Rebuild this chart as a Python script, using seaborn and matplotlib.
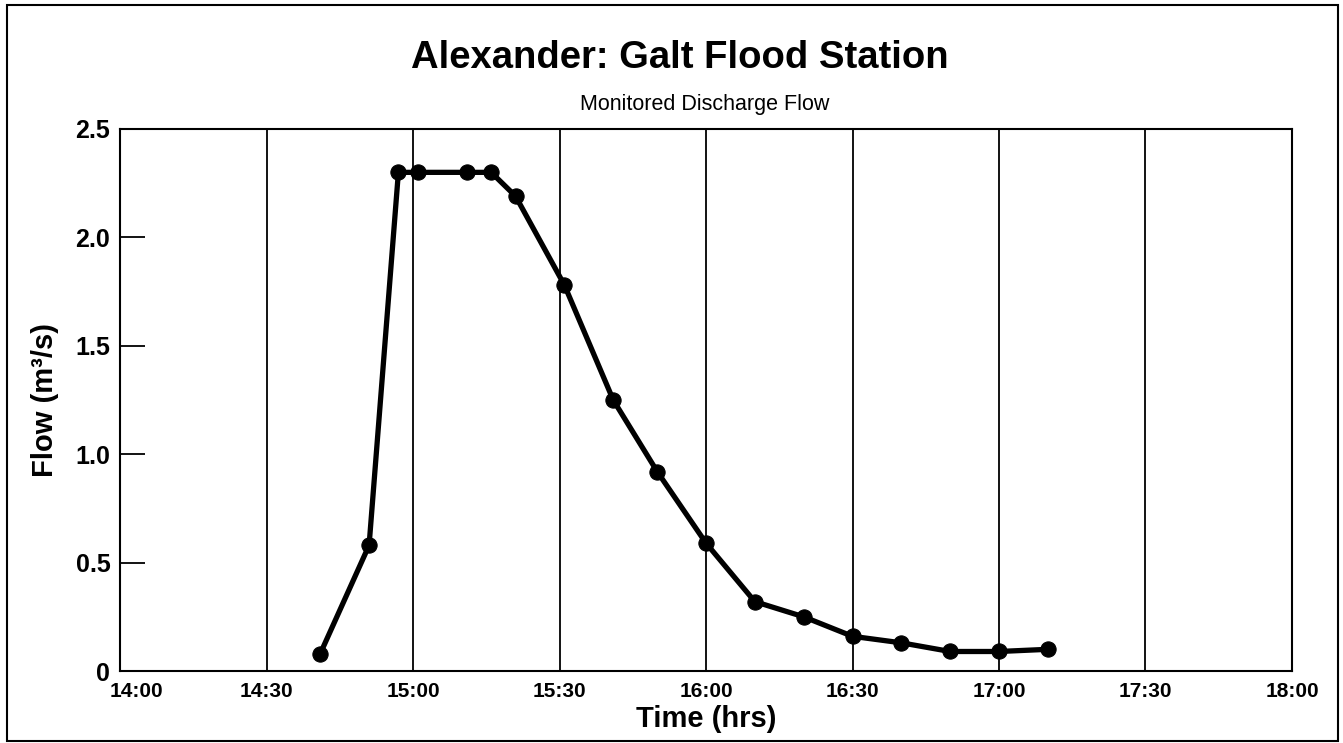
import pandas as pd
import matplotlib
matplotlib.use("Agg")
import matplotlib.pyplot as plt
import matplotlib.dates as mdates
import matplotlib.transforms as mtransforms
from matplotlib.patches import Rectangle
import seaborn as sns

# ── Dados ─────────────────────────────────────────────────────────────────────
TIMES = ["14:41", "14:51", "14:57", "15:01", "15:11", "15:16", "15:21", "15:31",
         "15:41", "15:50", "16:00", "16:10", "16:20", "16:30", "16:40", "16:50",
         "17:00", "17:10"]
FLOW = [0.08, 0.58, 2.30, 2.30, 2.30, 2.30, 2.19, 1.78,
        1.25, 0.92, 0.59, 0.32, 0.25, 0.16, 0.13, 0.09,
        0.09, 0.10]
Y_TICKS = [0, 0.5, 1.0, 1.5, 2.0, 2.5]
Y_LABELS = ["0", "0.5", "1.0", "1.5", "2.0", "2.5"]
X_START, X_END = "14:00", "18:00"

DAY = "2000-01-01 "
df = pd.DataFrame({"time": pd.to_datetime([DAY + t for t in TIMES]), "flow": FLOW})

sns.set_theme(style="white")
plt.rcParams["font.family"] = ["Liberation Sans", "DejaVu Sans"]
plt.rcParams["text.color"] = "black"

fig = plt.figure(figsize=(13.43, 7.43), dpi=100)
ax = fig.add_axes([0.0894, 0.0969, 0.8726, 0.7295])

sns.lineplot(data=df, x="time", y="flow", ax=ax, color="black",
             linewidth=3.8, marker="o", markersize=11, markeredgecolor="black")

ax.set_xlim(pd.Timestamp(DAY + X_START), pd.Timestamp(DAY + X_END))
ax.set_ylim(0, 2.5)
ax.xaxis.set_major_locator(mdates.MinuteLocator(byminute=[0, 30]))
ax.xaxis.set_major_formatter(mdates.DateFormatter("%H:%M"))
ax.set_yticks(Y_TICKS)
ax.set_yticklabels(Y_LABELS)

ax.grid(axis="x", color="black", linewidth=1.3)
ax.grid(axis="y", visible=False)
for s in ax.spines.values():
    s.set_color("black")
    s.set_linewidth(1.5)

ax.tick_params(axis="y", left=True, direction="in", length=18, width=1.3, color="black",
               labelsize=18, pad=7, labelcolor="black")
ax.tick_params(axis="x", bottom=False, length=0, labelsize=15, pad=8, labelcolor="black")
for lab in ax.get_xticklabels() + ax.get_yticklabels():
    lab.set_fontweight("bold")

# primeiro rótulo do eixo x deslocado para a direita, como no original
first = ax.get_xticklabels()[0]
first.set_transform(first.get_transform() +
                    mtransforms.ScaledTranslation(0.16, 0, fig.dpi_scale_trans))

ax.set_xlabel("Time (hrs)", fontsize=21, fontweight="bold", labelpad=3, color="black")
ax.set_ylabel("Flow (m³/s)", fontsize=21, fontweight="bold", labelpad=12, color="black")

fig.text(0.506, 0.922, "Alexander: Galt Flood Station", ha="center", va="center",
         fontsize=27.5, fontweight="bold", color="black")
fig.text(0.525, 0.859, "Monitored Discharge Flow", ha="center", va="center",
         fontsize=15.5, color="black")

fig.patches.append(Rectangle((0.005, 0.003), 0.991, 0.990, transform=fig.transFigure,
                             fill=False, edgecolor="black", linewidth=1.5))

fig.savefig("out.png", dpi=100)
